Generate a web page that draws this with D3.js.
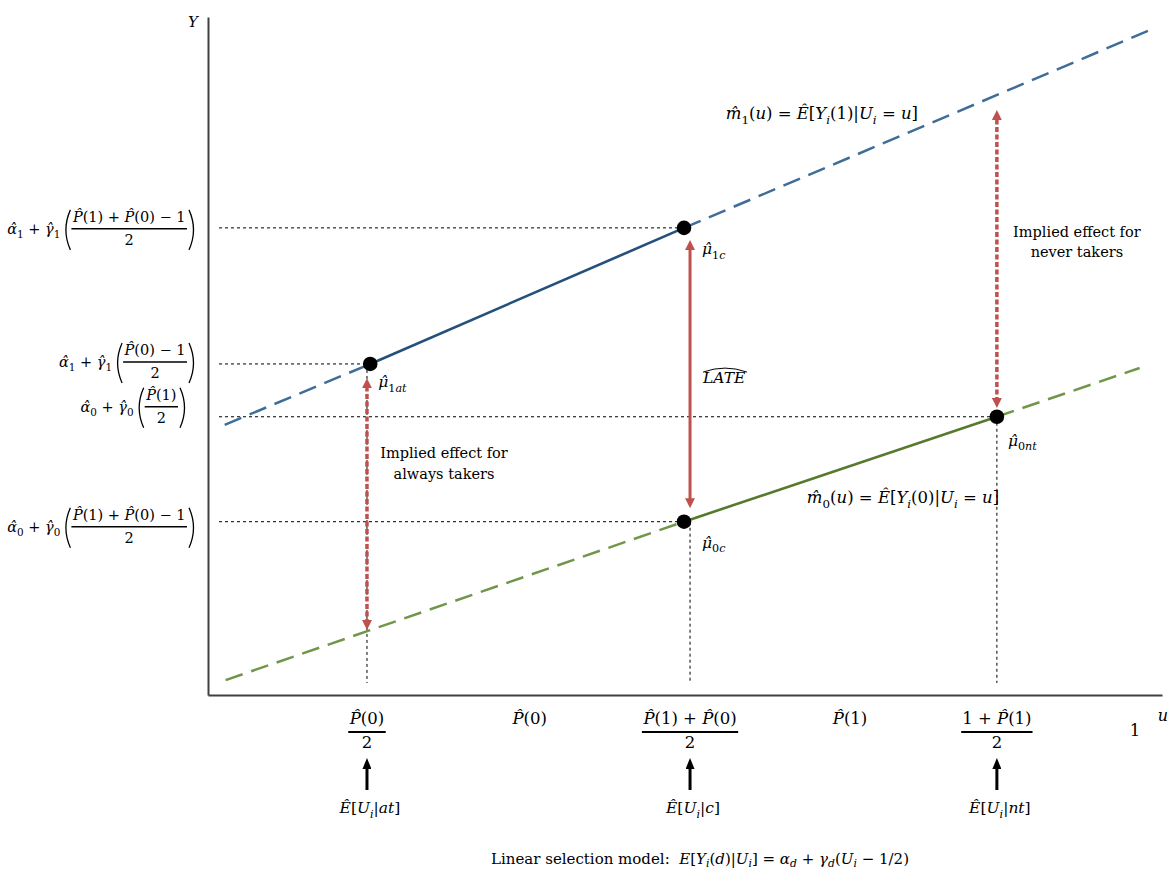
<!DOCTYPE html>
<html><head><meta charset="utf-8">
<script src="https://cdn.jsdelivr.net/npm/d3@7"></script>
<style>body{margin:0;background:#fff}</style>
</head><body>
<svg id="chart" width="1172" height="875"></svg>
<script>
// ---------------- data ----------------
const uTicks = [0.1715, 0.347, 0.520, 0.6926, 0.851, 1.0];
const tickNumerators = ["P̂(0)", "P̂(0)", "P̂(1) + P̂(0)", "P̂(1)", "1 + P̂(1)", "1"];
const tickDenominators = ["2", "", "2", "", "2", ""];
const tickGroupLabels = ["Ê[U_{i}|at]", "", "Ê[U_{i}|c]", "", "Ê[U_{i}|nt]", ""];

const m1DashedU = [0.018, 1.014];
const m1DashedV = [39.9, 98.1];
const m0DashedU = [0.019, 1.005];
const m0DashedV = [2.2, 48.3];

const pointNames = ["μ̂_{1at}", "μ̂_{1c}", "μ̂_{0c}", "μ̂_{0nt}"];
const pointU = [0.175, 0.5135, 0.5135, 0.851];
const pointV = [48.9, 69.0, 25.6, 41.1];
const m1SolidIdx = [0, 1];
const m0SolidIdx = [2, 3];

const yTickPointIdx = [1, 0, 3, 2];
const yTickPrefix = ["α̂_{1} + γ̂_{1}", "α̂_{1} + γ̂_{1}", "α̂_{0} + γ̂_{0}", "α̂_{0} + γ̂_{0}"];
const yTickNum = ["P̂(1) + P̂(0) − 1", "P̂(0) − 1", "P̂(1)", "P̂(1) + P̂(0) − 1"];
const yTickDen = ["2", "2", "2", "2"];

const vGuideTick = [0, 2, 4];
const vGuidePoint = [0, 2, 3];

const arrowNames = ["at", "late", "nt"];
const arrowU = [0.1715, 0.520, 0.851];
const arrowFrom = [9.6, 27.6, 42.4];
const arrowTo = [46.8, 67.2, 86.4];

const m1Label = "m̂_{1}(u) = Ê[Y_{i}(1)|U_{i} = u]";
const m0Label = "m̂_{0}(u) = Ê[Y_{i}(0)|U_{i} = u]";
const atText = ["Implied effect for", "always takers"];
const ntText = ["Implied effect for", "never takers"];
const captionPlain = "Linear selection model:  ";
const captionMath = "E[Y_{i}(d)|U_{i}] = α_{d} + γ_{d}(U_{i} − 1/2)";

// ---------------- layout ----------------
const W = 1172, H = 875;
const MF = '"DejaVu Serif", "Liberation Serif", serif';
const BLUE = "#24507c", BLUE_D = "#3f6d98", GREEN = "#58792d", GREEN_D = "#71964a", RED = "#c0504d", AX = "#404040";

const x = d3.scaleLinear().domain([0, 1]).range([208, 1135]);
const y = d3.scaleLinear().domain([0, 100]).range([695, 18]);

const svg = d3.select("#chart");
svg.append("rect").attr("width", W).attr("height", H).attr("fill", "#fff");
const defs = svg.append("defs");

function marker(id, color, w, l, refX) {
  defs.append("marker").attr("id", id).attr("viewBox", `0 0 ${l} ${w}`)
    .attr("refX", refX).attr("refY", w / 2).attr("markerWidth", l).attr("markerHeight", w)
    .attr("markerUnits", "userSpaceOnUse").attr("orient", "auto-start-reverse")
    .append("path").attr("d", `M0,0L${l},${w / 2}L0,${w}Z`).attr("fill", color);
}
marker("redHead", RED, 10, 10, 4);
marker("blackHead", "#000", 9, 11, 4);

// math text helper
function parseMath(s) {
  const out = []; let sub = false;
  for (let i = 0; i < s.length; i++) {
    const c = s[i];
    if (c === "_" && s[i + 1] === "{") { sub = true; i++; continue; }
    if (c === "}" && sub) { sub = false; continue; }
    if (c === "\u0302" && out.length) { out[out.length - 1].t += c; continue; }
    const it = /[A-Za-zα-ωÊ]/.test(c);
    const last = out[out.length - 1];
    if (last && last.it === it && last.sub === sub) last.t += c;
    else out.push({ t: c, it, sub });
  }
  return out;
}
function mathText(parent, s, px, py, size, anchor, plain, subShift) {
  const sh = subShift === undefined ? 0.3 : subShift;
  const t = parent.append("text").attr("x", px).attr("y", py).attr("font-size", size)
    .attr("text-anchor", anchor || "start").attr("font-family", MF).attr("fill", "#000");
  if (plain) t.append("tspan").text(plain).style("white-space", "pre");
  let cur = false;
  parseMath(s).forEach(seg => {
    const ts = t.append("tspan").text(seg.t).attr("font-style", seg.it ? "italic" : "normal");
    if (seg.sub !== cur) { ts.attr("dy", seg.sub ? size * sh : -size * sh); cur = seg.sub; }
    if (seg.sub) ts.attr("font-size", size * 0.72);
  });
  return t;
}
function bw(sel) { return sel.node().getBBox().width; }

// axes
const xAxisScale = x.copy().domain([0, 1.029]).range([208, 1162]);
svg.append("g").attr("transform", `translate(0,${y(0)})`)
  .call(d3.axisBottom(xAxisScale).tickValues([]).tickSizeOuter(0))
  .select(".domain").attr("stroke", AX).attr("stroke-width", 2);
const yAxisScale = y.copy().domain([0, 100.2]).range([695, 17]);
svg.append("g").attr("transform", `translate(${x(0)},0)`)
  .call(d3.axisLeft(yAxisScale).tickValues([]).tickSizeOuter(0))
  .select(".domain").attr("stroke", AX).attr("stroke-width", 2);

// guide lines (dotted)
const guides = svg.append("g").attr("stroke", "#000").attr("stroke-width", 1).attr("stroke-dasharray", "3,3");
yTickPointIdx.forEach(pi => {
  guides.append("line").attr("x1", x(0) + 11).attr("x2", x(pointU[pi])).attr("y1", y(pointV[pi])).attr("y2", y(pointV[pi]));
});
vGuideTick.forEach((ti, k) => {
  const pv = pointV[vGuidePoint[k]];
  guides.append("line").attr("x1", x(uTicks[ti])).attr("x2", x(uTicks[ti])).attr("y1", y(pv)).attr("y2", y(0) - 12);
});

// lines: dashed extrapolation outside the solid segments, solid between the estimates
const line = d3.line().x(d => x(d[0])).y(d => y(d[1]));
function dashedPieces(U, V, idx, color) {
  const a = [U[0], V[0]], b = [U[1], V[1]];
  const p = [pointU[idx[0]], pointV[idx[0]]], q = [pointU[idx[1]], pointV[idx[1]]];
  [[a, p], [q, b]].forEach(seg => {
    svg.append("path").datum(seg).attr("d", line).attr("fill", "none")
      .attr("stroke", color).attr("stroke-width", 2.5).attr("stroke-dasharray", "18,9");
  });
}
dashedPieces(m1DashedU, m1DashedV, m1SolidIdx, BLUE_D);
dashedPieces(m0DashedU, m0DashedV, m0SolidIdx, GREEN_D);
svg.append("path").datum(m1SolidIdx.map(i => [pointU[i], pointV[i]])).attr("d", line).attr("fill", "none")
  .attr("stroke", BLUE).attr("stroke-width", 2.6);
svg.append("path").datum(m0SolidIdx.map(i => [pointU[i], pointV[i]])).attr("d", line).attr("fill", "none")
  .attr("stroke", GREEN).attr("stroke-width", 2.6);

// red arrows
arrowNames.forEach((nm, i) => {
  const ax = x(arrowU[i]);
  const y1 = y(arrowFrom[i]) - 6, y2 = y(arrowTo[i]) + 6;
  const ln = svg.append("line").attr("x1", ax).attr("x2", ax).attr("y1", y1).attr("y2", y2)
    .attr("stroke", RED).attr("stroke-width", nm === "late" ? 3 : 3.5)
    .attr("marker-start", "url(#redHead)").attr("marker-end", "url(#redHead)");
  if (nm !== "late") ln.attr("stroke-dasharray", "5,2.5");
});

// points
svg.append("g").selectAll("circle").data(pointU).join("circle")
  .attr("cx", d => x(d)).attr("cy", (d, i) => y(pointV[i])).attr("r", 7.3).attr("fill", "#000");

// point labels
const ptOff = [[8, 23], [18, 26], [18, 26], [11, 29]];
pointNames.forEach((nm, i) => {
  mathText(svg, nm, x(pointU[i]) + ptOff[i][0], y(pointV[i]) + ptOff[i][1], 15.5);
});

// LATE label with wide hat
{
  const lx = x(arrowU[1]) + 13, ly = (y(arrowFrom[1]) + y(arrowTo[1])) / 2 + 9;
  const t = mathText(svg, "LATE", lx, ly, 15.5);
  const w = bw(t);
  svg.append("path").attr("d", `M${lx},${ly - 11} Q${lx + w / 2},${ly - 19} ${lx + w},${ly - 11}`)
    .attr("fill", "none").attr("stroke", "#000").attr("stroke-width", 1);
}

// annotation texts
function textLines(lines, cx, y0, gap) {
  lines.forEach((s, k) => svg.append("text").attr("x", cx).attr("y", y0 + k * gap)
    .attr("text-anchor", "middle").attr("font-family", MF).attr("font-size", 14.5).attr("fill", "#000").text(s));
}
textLines(atText, x(arrowU[0]) + 77, y(arrowTo[0]) + 80, 21);
textLines(ntText, x(arrowU[2]) + 80, y(arrowTo[2]) + 127, 20);

mathText(svg, m1Label, x(0.5585), y(85.1), 16.5);
mathText(svg, m0Label, x(0.646), y(28.3), 16.5);

// y tick labels (fractions)
const yNudge = [[0, 1], [0, -2], [-9, -10], [0, 5]];
yTickPointIdx.forEach((pi, i) => {
  const yl = y(pointV[pi]) + yNudge[i][1];
  const g = svg.append("g");
  const size = 14.5;
  const p = mathText(g, yTickPrefix[i], 0, yl + 5, size);
  const pw = bw(p);
  const fx = pw + 11;
  const n = mathText(g, yTickNum[i], 0, yl - 7, size, "middle");
  const d = mathText(g, yTickDen[i], 0, yl + 16, size, "middle");
  const fw = Math.max(bw(n), bw(d)) + 2;
  n.attr("x", fx + fw / 2); d.attr("x", fx + fw / 2);
  g.append("line").attr("x1", fx).attr("x2", fx + fw).attr("y1", yl).attr("y2", yl).attr("stroke", "#000").attr("stroke-width", 1.5);
  const top = yl - 19, bot = yl + 21, mid = (top + bot) / 2;
  const lp = pw + 3, rp = fx + fw + 2;
  g.append("path").attr("d", `M${lp + 7},${top} Q${lp - 2},${mid} ${lp + 7},${bot}`).attr("fill", "none").attr("stroke", "#000").attr("stroke-width", 1.3);
  g.append("path").attr("d", `M${rp},${top} Q${rp + 9},${mid} ${rp},${bot}`).attr("fill", "none").attr("stroke", "#000").attr("stroke-width", 1.3);
  const total = rp + 8;
  g.attr("transform", `translate(${197 + yNudge[i][0] - total},0)`);
});

// x tick labels
const tickLineY = y(0) + 37;
const tickNudge = [0, 0, 0, 0, 0, 12];
uTicks.forEach((u, i) => {
  const cx = x(u);
  const g = svg.append("g");
  const n = mathText(g, tickNumerators[i], cx, tickLineY - 8 + tickNudge[i], 16.5, "middle");
  if (tickDenominators[i]) {
    const d = mathText(g, tickDenominators[i], cx, tickLineY + 16, 16.5, "middle");
    const w = Math.max(bw(n), bw(d)) + 2;
    g.append("line").attr("x1", cx - w / 2).attr("x2", cx + w / 2).attr("y1", tickLineY).attr("y2", tickLineY)
      .attr("stroke", "#000").attr("stroke-width", 1.8);
  }
  if (tickGroupLabels[i]) {
    svg.append("line").attr("x1", cx).attr("x2", cx).attr("y1", y(0) + 95).attr("y2", y(0) + 70)
      .attr("stroke", "#000").attr("stroke-width", 3).attr("marker-end", "url(#blackHead)");
    mathText(svg, tickGroupLabels[i], cx + 3, y(0) + 118, 15.5, "middle");
  }
});

// axis titles
mathText(svg, "Y", x(0) - 15, 27, 15, "middle");
mathText(svg, "u", 1163, 721, 16, "middle");

// caption
mathText(svg, captionMath, 700, 864, 15, "middle", captionPlain, 0.22);
</script>
</body></html>
